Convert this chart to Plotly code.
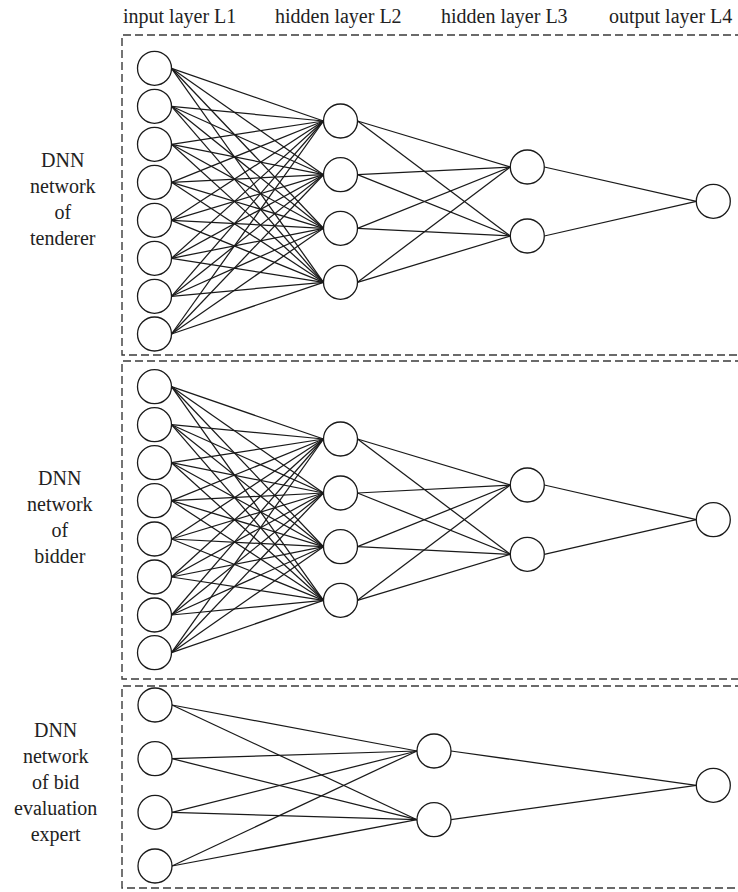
import plotly.graph_objects as go

W, H = 738, 892
R = 17  # node radius (px)

# Column headers
header_labels = ["input layer L1", "hidden layer L2", "hidden layer L3", "output layer L4"]
header_x = [179, 338, 504, 670]
header_y = 16

# Network 1: tenderer
net1_label = "DNN<br>network<br>of<br>tenderer"
net1_label_pos = (63, 199)
net1_layer_x = [154.5, 340.5, 527.3, 713.3]
net1_layer_y = [
    [68.3, 106.3, 144.3, 182.3, 220.3, 258.3, 296.3, 334.0],
    [121.0, 174.7, 228.3, 282.3],
    [167.0, 236.0],
    [201.3],
]
net1_box = (122, 35, 355)

# Network 2: bidder
net2_label = "DNN<br>network<br>of<br>bidder"
net2_label_pos = (60, 517)
net2_layer_x = [154.5, 340.5, 527.3, 713.3]
net2_layer_y = [
    [386.7, 424.7, 462.7, 500.7, 539.0, 577.0, 615.0, 652.7],
    [439.0, 493.0, 546.7, 600.3],
    [485.0, 554.3],
    [519.7],
]
net2_box = (122, 361, 679)

# Network 3: bid evaluation expert
net3_label = "DNN<br>network<br>of bid<br>evaluation<br>expert"
net3_label_pos = (55, 782)
net3_layer_x = [155.0, 434.0, 713.3]
net3_layer_y = [
    [705.0, 758.7, 812.3, 866.0],
    [751.0, 819.7],
    [785.3],
]
net3_box = (122, 686, 888)

networks = [
    (net1_layer_x, net1_layer_y, net1_box, net1_label, net1_label_pos),
    (net2_layer_x, net2_layer_y, net2_box, net2_label, net2_label_pos),
    (net3_layer_x, net3_layer_y, net3_box, net3_label, net3_label_pos),
]

FONT = "Liberation Serif, Times New Roman, DejaVu Serif, serif"
fig = go.Figure()
shapes = []
annotations = []

for lx, ly, box, label, lpos in networks:
    # edges
    ex, ey = [], []
    for i in range(len(lx) - 1):
        for y1 in ly[i]:
            for y2 in ly[i + 1]:
                ex += [lx[i] + R, lx[i + 1] - R, None]
                ey += [y1, y2, None]
    fig.add_trace(go.Scatter(x=ex, y=ey, mode="lines",
                             line=dict(color="#1a1a1a", width=1.25),
                             hoverinfo="skip", showlegend=False))
    # nodes
    nx, ny = [], []
    for i in range(len(lx)):
        for y in ly[i]:
            nx.append(lx[i])
            ny.append(y)
    fig.add_trace(go.Scatter(x=nx, y=ny, mode="markers",
                             marker=dict(size=2 * R, color="white",
                                         line=dict(color="#1a1a1a", width=1.3)),
                             hoverinfo="skip", showlegend=False))
    # dashed box (open at the right)
    bx, by0, by1 = box
    shapes.append(dict(type="path", xref="x", yref="y",
                       path=f"M {W + 5} {by0} L {bx} {by0} L {bx} {by1} L {W + 5} {by1}",
                       line=dict(color="#3a3a3a", width=1.4, dash="8px,4px")))
    annotations.append(dict(x=lpos[0], y=lpos[1], xref="x", yref="y",
                            text=label, showarrow=False, align="center",
                            xanchor="center", yanchor="middle",
                            font=dict(family=FONT, size=20, color="#222")))

for t, x in zip(header_labels, header_x):
    annotations.append(dict(x=x, y=header_y, xref="x", yref="y", text=t,
                            showarrow=False, xanchor="center", yanchor="middle",
                            font=dict(family=FONT, size=20, color="#222")))

fig.update_layout(
    width=W, height=H,
    margin=dict(l=0, r=0, t=0, b=0),
    paper_bgcolor="white", plot_bgcolor="white",
    xaxis=dict(range=[0, W], visible=False, fixedrange=True),
    yaxis=dict(range=[H, 0], visible=False, fixedrange=True),
    shapes=shapes, annotations=annotations,
    showlegend=False,
)

fig.write_html("out.html", config={"displayModeBar": False},
               post_script="document.body.style.margin='0';document.body.style.overflow='hidden';")
